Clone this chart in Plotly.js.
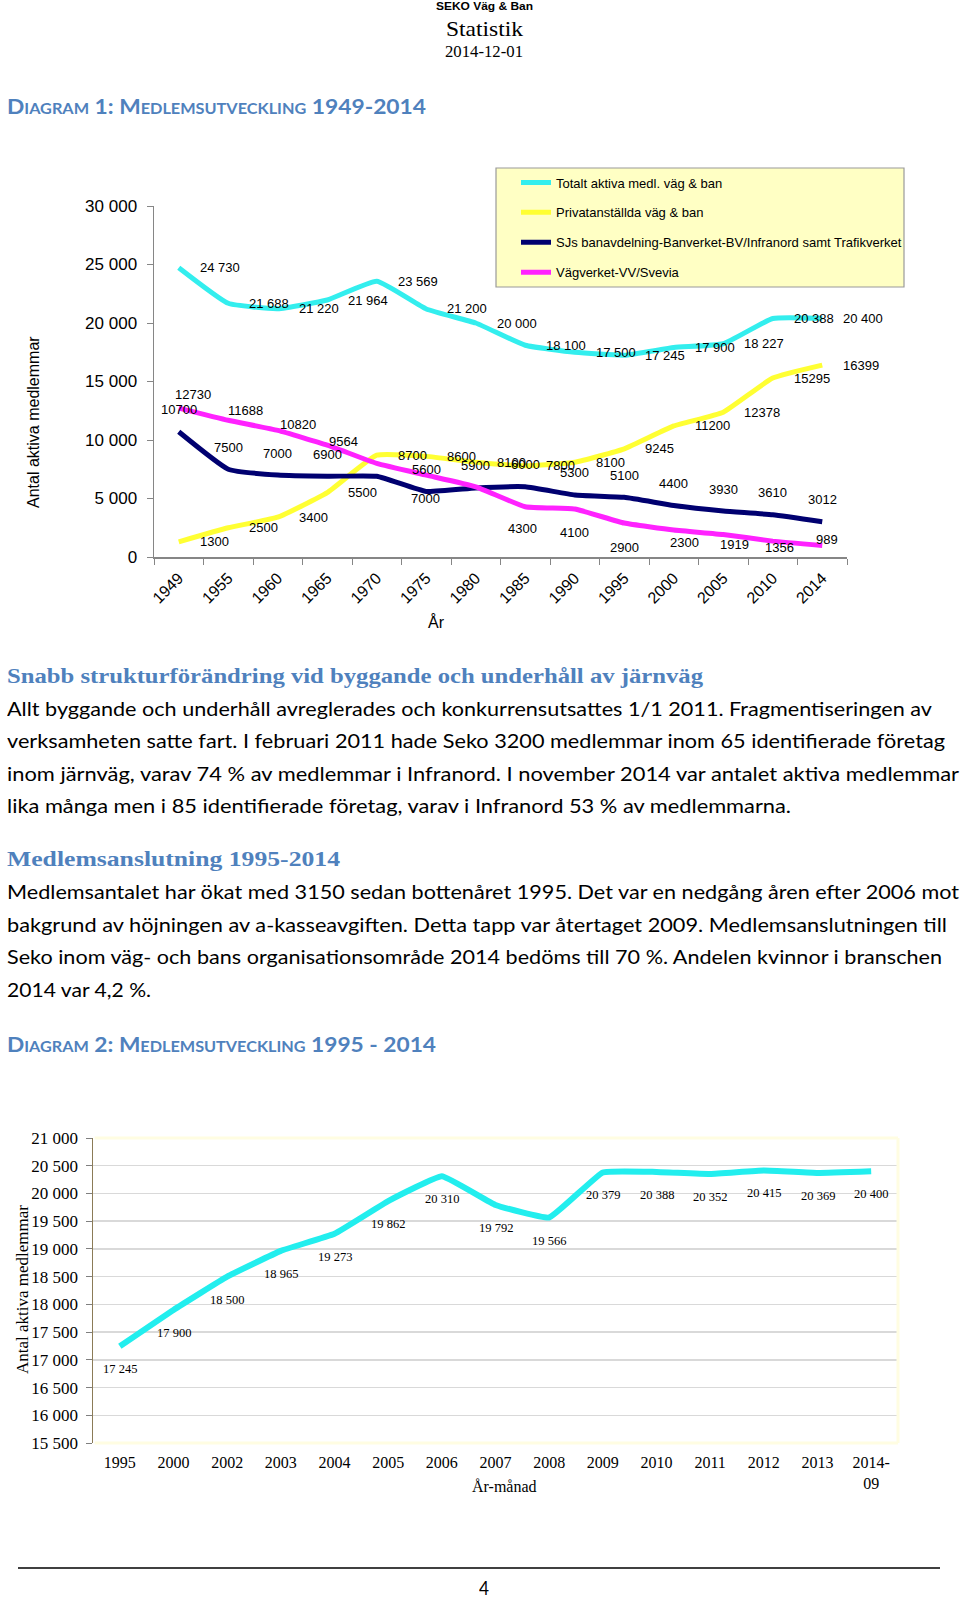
<!DOCTYPE html>
<html><head><meta charset="utf-8">
<script src="https://cdn.plot.ly/plotly-3.0.1.min.js"></script>
<style>
html,body{margin:0;padding:0;background:#fff;}
#page{position:relative;width:960px;height:1598px;overflow:hidden;background:#fff;}
#chart{position:absolute;left:0;top:0;width:960px;height:1598px;}
.t{position:absolute;white-space:nowrap;transform-origin:0 50%;line-height:1.2;color:#000;z-index:5;}
</style></head><body>
<div id="page"><div id="chart"></div></div>
<script>
// ---------- Diagram 1 data ----------
const years1 = ['1949','1955','1960','1965','1970','1975','1980','1985','1990','1995','2000','2005','2010','2014'];
const totalActive = [24730,21688,21220,21964,23569,21200,20000,18100,17500,17245,17900,18227,20388,20400];
const privateRoadRail = [1300,2500,3400,5500,8700,8600,8100,7800,8100,9245,11200,12378,15295,16399];
const banverket = [10700,7500,7000,6900,6900,5600,5900,6000,5300,5100,4400,3930,3610,3012];
const vagverket = [12730,11688,10820,9564,8000,7000,6000,4300,4100,2900,2300,1919,1356,989];
const seriesNames1 = ['Totalt aktiva medl. väg & ban','Privatanställda väg & ban',
  'SJs banavdelning-Banverket-BV/Infranord samt Trafikverket','Vägverket-VV/Svevia'];
const yTicks1 = [0,5000,10000,15000,20000,25000,30000];

// ---------- Diagram 2 data ----------
const months2 = ['1995','2000','2002','2003','2004','2005','2006','2007','2008','2009','2010','2011','2012','2013','2014-09'];
const monthTickText = ['1995','2000','2002','2003','2004','2005','2006','2007','2008','2009','2010','2011','2012','2013','2014-<br>09'];
const members2 = [17245,17900,18500,18965,19273,19862,20310,19792,19566,20379,20388,20352,20415,20369,20400];

// category positions (index of each category on the axis)
const pos1 = years1.map((_, i) => i);
const pos2 = months2.map((_, i) => i);

// ---------- styles ----------
const SANS = 'Liberation Sans, Arial, sans-serif';
const SERIF = 'Liberation Serif, Times New Roman, serif';
const colors1 = ['#33EEEE','#FFFF33','#000070','#FF22FF'];
const grey = '#868686';
const spaceFmt = v => String(v).replace(/\B(?=(\d{3})+(?!\d))/g,' ');

// label placement styles (pixel offsets, not data)
const labelStyle = [
  {fmt: spaceFmt, xanchor:'left', dx:19, dy:0, skip:[]},
  {fmt: String, xanchor:'left', dx:19, dy:0, skip:[]},
  {fmt: String, xanchor:'center', dx:0, dy:22, skip:[4]},
  {fmt: String, skip:[4,6], per:[
    ['left',-6,14],['left',-2,10],['left',0,6],['left',0,4],null,['center',-1,-23],null,
    ['center',-3,-22],['center',0,-23],['center',0,-24],['center',11,-12],['center',11,-10],
    ['center',7,-6],['center',5,6]]}
];

const series1 = [totalActive, privateRoadRail, banverket, vagverket];
const traces = series1.map((vals,s)=>({
  type:'scatter', mode:'lines', x:pos1, y:vals, name:seriesNames1[s],
  xaxis:'x', yaxis:'y', legendgroup:'g'+s,
  line:{color:colors1[s], width:5, shape:'spline', smoothing:0.4},
  hoverinfo:'skip'
}));
traces.push({
  type:'scatter', mode:'lines', x:pos2, y:members2, xaxis:'x2', yaxis:'y2',
  showlegend:false, line:{color:'#22EEEE', width:6, shape:'spline', smoothing:0.3}, hoverinfo:'skip'
});

const annotations = [];
series1.forEach((vals,s)=>{
  const st = labelStyle[s];
  vals.forEach((v,i)=>{
    if (st.skip.includes(i)) return;
    let xa = st.xanchor, dx = st.dx, dy = st.dy;
    if (st.per) { [xa,dx,dy] = st.per[i]; }
    annotations.push({xref:'x', yref:'y', x:pos1[i], y:v, text:st.fmt(v), showarrow:false,
      xanchor:xa, yanchor:'middle', xshift:dx, yshift:dy,
      font:{family:SANS, size:13, color:'#000'}});
  });
});
members2.forEach((v,i)=>{
  annotations.push({xref:'x2', yref:'y2', x:pos2[i], y:v, text:spaceFmt(v), showarrow:false,
    xanchor:'center', yanchor:'middle', yshift:-23, font:{family:SERIF, size:12.5, color:'#000'}});
});
const H = 1598, W = 960;
const py = p => 1 - p/H, px = p => p/W;
// axis titles
annotations.push({xref:'paper', yref:'paper', x:px(33), y:py(422), text:'Antal aktiva medlemmar', textangle:-90,
  showarrow:false, xanchor:'center', yanchor:'middle', font:{family:SANS, size:16, color:'#000'}});
annotations.push({xref:'paper', yref:'paper', x:px(436), y:py(622), text:'År', showarrow:false,
  xanchor:'center', yanchor:'middle', font:{family:SANS, size:16, color:'#000'}});
annotations.push({xref:'paper', yref:'paper', x:px(22), y:py(1290), text:'Antal aktiva medlemmar', textangle:-90,
  showarrow:false, xanchor:'center', yanchor:'middle', font:{family:SERIF, size:17, color:'#000'}});
annotations.push({xref:'paper', yref:'paper', x:px(505), y:py(1486), text:'År-månad', showarrow:false,
  xanchor:'center', yanchor:'middle', font:{family:SERIF, size:16, color:'#000'}});

const shapes = [
  {type:'rect', xref:'paper', yref:'paper', x0:px(496), x1:px(904), y0:py(287), y1:py(168),
   fillcolor:'#FFFFC4', line:{color:'#9a9a9a', width:1.2}, layer:'below'},
  {type:'line', xref:'x2 domain', yref:'y2 domain', x0:0.002, x1:1, y0:1, y1:1, line:{color:'#FFFDE2', width:3}, layer:'above'},
  {type:'line', xref:'x2 domain', yref:'y2 domain', x0:1, x1:1, y0:0, y1:1, line:{color:'#FFFDE2', width:3}, layer:'above'},
  {type:'line', xref:'x2 domain', yref:'y2 domain', x0:0.002, x1:1, y0:0, y1:0, line:{color:'#FFFDE2', width:3}, layer:'above'},
  {type:'line', xref:'paper', yref:'paper', x0:px(18), x1:px(940), y0:py(1568), y1:py(1568), line:{color:'#000', width:1.5}}
];

const layout = {
  width:W, height:H, autosize:false, margin:{l:0,r:0,t:0,b:0},
  paper_bgcolor:'rgba(0,0,0,0)', plot_bgcolor:'rgba(0,0,0,0)',
  separators:', ', showlegend:true,
  legend:{x:px(516), y:py(167.5), xanchor:'left', yanchor:'top', bgcolor:'rgba(0,0,0,0)', borderwidth:0,
    font:{family:SANS, size:13, color:'#000'}, tracegroupgap:10, itemwidth:30},
  xaxis:{domain:[px(154),px(847)], anchor:'y', type:'linear', range:[-0.5, years1.length-0.5],
    tickmode:'array', tickvals:pos1, ticktext:years1, ticks:'',
    minor:{tick0:-0.5, dtick:1, ticks:'outside', ticklen:6, tickcolor:grey, tickwidth:1, showgrid:false},
    showline:true, linecolor:grey, linewidth:1.5, tickangle:-45, ticklabelstandoff:4,
    tickfont:{family:SANS, size:16, color:'#000'}, showgrid:false, zeroline:false, fixedrange:true},
  yaxis:{domain:[py(557),py(206)], anchor:'x', range:[0,30000], tickvals:yTicks1, tickformat:',d', ticks:'outside',
    ticklen:6, tickcolor:grey, showline:true, linecolor:grey, linewidth:1.5, showgrid:false, zeroline:false,
    tickfont:{family:SANS, size:17, color:'#000'}, ticklabelstandoff:6, fixedrange:true},
  xaxis2:{domain:[px(93),px(898)], anchor:'y2', type:'linear', range:[-0.5, months2.length-0.5],
    tickmode:'array', tickvals:pos2, ticktext:monthTickText,
    ticks:'', showline:false, showgrid:false, zeroline:false, ticklabelstandoff:8,
    tickfont:{family:SERIF, size:16, color:'#000'}, fixedrange:true},
  yaxis2:{domain:[py(1443),py(1138)], anchor:'x2', range:[15500,21000], dtick:500, tickformat:',d', ticks:'outside',
    ticklen:6, tickcolor:'#7f7f7f', showline:true, linecolor:'#8B7B57', linewidth:1.5, showgrid:true,
    gridcolor:'#D9D9D9', gridwidth:1.5, zeroline:false, tickfont:{family:SERIF, size:17, color:'#000'},
    ticklabelstandoff:4, fixedrange:true},
  annotations:annotations, shapes:shapes
};
Plotly.newPlot('chart', traces, layout, {displayModeBar:false, staticPlot:true});

// ---------- page text ----------
const BLUE = '#4F81BD';
const LATO = 'Lato, "Open Sans", sans-serif';
const texts = [
  {t:'SEKO Väg & Ban', cx:484, cy:6, w:97, f:SANS, s:11, b:700},
  {t:'Statistik', cx:484, cy:28.5, w:77, f:SERIF, s:22},
  {t:'2014-12-01', cx:484, cy:52, w:78, f:SERIF, s:17},
  {t:'Diagram 1: Medlemsutveckling 1949-2014', x:7, cy:105, w:419, f:LATO, s:21, b:700, c:BLUE, sc:true},
  {t:'Snabb strukturförändring vid byggande och underhåll av järnväg', x:7, cy:676, w:696, f:SERIF, s:22, b:700, c:BLUE},
  {t:'Allt byggande och underhåll avreglerades och konkurrensutsattes 1/1 2011. Fragmentiseringen av', x:7, cy:707.5, w:925, f:LATO, s:20},
  {t:'verksamheten satte fart. I februari 2011 hade Seko 3200 medlemmar inom 65 identifierade företag', x:7, cy:740, w:938, f:LATO, s:20},
  {t:'inom järnväg, varav 74 % av medlemmar i Infranord. I november 2014 var antalet aktiva medlemmar', x:7, cy:772.5, w:952, f:LATO, s:20},
  {t:'lika många men i 85 identifierade företag, varav i Infranord 53 % av medlemmarna.', x:7, cy:805, w:784, f:LATO, s:20},
  {t:'Medlemsanslutning 1995-2014', x:7, cy:859, w:333, f:SERIF, s:22, b:700, c:BLUE},
  {t:'Medlemsantalet har ökat med 3150 sedan bottenåret 1995. Det var en nedgång åren efter 2006 mot', x:7, cy:891, w:952, f:LATO, s:20},
  {t:'bakgrund av höjningen av a-kasseavgiften. Detta tapp var återtaget 2009. Medlemsanslutningen till', x:7, cy:923.5, w:940, f:LATO, s:20},
  {t:'Seko inom väg- och bans organisationsområde 2014 bedöms till 70 %. Andelen kvinnor i branschen', x:7, cy:956, w:935, f:LATO, s:20},
  {t:'2014 var 4,2 %.', x:7, cy:989, w:144, f:LATO, s:20},
  {t:'Diagram 2: Medlemsutveckling 1995 - 2014', x:7, cy:1043, w:429, f:LATO, s:21, b:700, c:BLUE, sc:true},
  {t:'4', cx:484, cy:1587, w:10, f:LATO, s:20}
];
function layoutText(){
  const page = document.getElementById('page');
  page.querySelectorAll('.t').forEach(e=>e.remove());
  texts.forEach(it=>{
    const d = document.createElement('div');
    d.className = 't';
    d.textContent = it.t;
    d.style.fontFamily = it.f;
    d.style.fontSize = it.s + 'px';
    d.style.fontWeight = it.b || 400;
    if (it.c) d.style.color = it.c;
    if (it.sc) d.style.fontVariant = 'small-caps';
    d.style.left = '0px'; d.style.top = '0px';
    page.appendChild(d);
    const w = d.getBoundingClientRect().width;
    const h = d.offsetHeight;
    const k = it.w ? it.w / w : 1;
    const left = (it.cx != null) ? it.cx - (it.w || w) / 2 : it.x;
    d.style.left = left + 'px';
    d.style.top = (it.cy - h / 2) + 'px';
    d.style.transform = 'scaleX(' + k + ')';
  });
}
layoutText();
if (document.fonts && document.fonts.ready) document.fonts.ready.then(layoutText);
</script>
</body></html>
